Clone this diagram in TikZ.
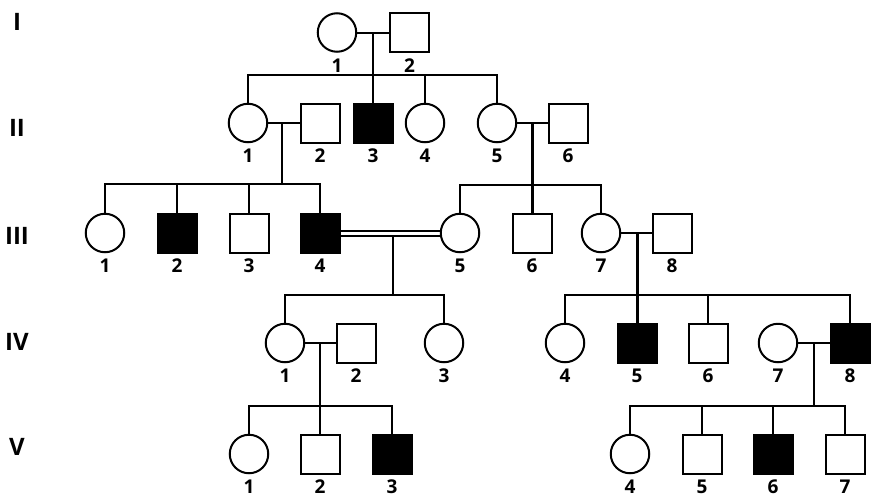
\documentclass[tikz,border=0pt]{standalone}
\usepackage{fontspec}
\setmainfont{Open Sans}
\begin{document}
\begin{tikzpicture}[x=1pt,y=-1pt,
  ind/.style={draw, line width=2pt, inner sep=0pt,
    label={[lab]below:#1}},
  fem/.style={ind=#1, circle, minimum size=38.5pt},
  mal/.style={ind=#1, rectangle, minimum size=39pt},
  aff/.style={fill=black},
  lab/.style={font=\bfseries\fontsize{19}{19}\selectfont, inner sep=0pt, label distance=5.5pt},
  gen/.style={font=\bfseries\fontsize{24}{24}\selectfont, inner sep=0pt},
  rel/.style={line width=2pt},
  thk/.style={line width=3pt}]
\useasboundingbox (0,0) rectangle (886,501);
% generation labels
\node[gen] (gI) at (17,22) {I};
\node[gen] (gII) at (17,128) {II};
\node[gen] (gIII) at (17,236) {III};
\node[gen] (gIV) at (17,342) {IV};
\node[gen] (gV) at (17,447) {V};
% generation I
\node[fem=1] (I1) at (337,32.5) {};
\node[mal=2] (I2) at (409.5,32.5) {};
% generation II
\node[fem=1] (II1) at (248,123) {};
\node[mal=2] (II2) at (320,123) {};
\node[mal=3,aff] (II3) at (373,123) {};
\node[fem=4] (II4) at (425,123) {};
\node[fem=5] (II5) at (497,123) {};
\node[mal=6] (II6) at (568,123) {};
% generation III
\node[fem=1] (III1) at (105,233) {};
\node[mal=2,aff] (III2) at (177,233) {};
\node[mal=3] (III3) at (249,233) {};
\node[mal=4,aff] (III4) at (320,233) {};
\node[fem=5] (III5) at (460,233) {};
\node[mal=6] (III6) at (532,233) {};
\node[fem=7] (III7) at (601,233) {};
\node[mal=8] (III8) at (672,233) {};
% generation IV
\node[fem=1] (IV1) at (285,343) {};
\node[mal=2] (IV2) at (356,343) {};
\node[fem=3] (IV3) at (444,343) {};
\node[fem=4] (IV4) at (565,343) {};
\node[mal=5,aff] (IV5) at (637,343) {};
\node[mal=6] (IV6) at (708,343) {};
\node[fem=7] (IV7) at (778,343) {};
\node[mal=8,aff] (IV8) at (850,343) {};
% generation V
\node[fem=1] (V1) at (249,454) {};
\node[mal=2] (V2) at (320,454) {};
\node[mal=3,aff] (V3) at (392,454) {};
\node[fem=4] (V4) at (630,454) {};
\node[mal=5] (V5) at (702,454) {};
\node[mal=6,aff] (V6) at (773,454) {};
\node[mal=7] (V7) at (845,454) {};

% I1 x I2
\draw[rel] (I1) -- (I2);
\coordinate (mI) at (373,32.5);
\coordinate (sI) at (373,75);
\draw[rel] (mI) -- (sI);
\draw[rel] (II1.north) |- (sI) -| (II5.north);
\draw[rel] (sI) -- (II3.north);
\draw[rel] (II4.north) -- (II4.north |- sI);

% II1 x II2
\draw[rel] (II1) -- (II2);
\coordinate (mII1) at (282,123);
\coordinate (sII1) at (282,184);
\draw[rel] (mII1) -- (sII1);
\draw[rel] (III1.north) |- (sII1) -| (III4.north);
\draw[rel] (III2.north) -- (III2.north |- sII1);
\draw[rel] (III3.north) -- (III3.north |- sII1);

% II5 x II6
\draw[rel] (II5) -- (II6);
\coordinate (mII5) at (532,123);
\coordinate (sII5) at (532,185);
\draw[thk] (mII5) -- (III6.north);
\draw[rel] (III5.north) |- (sII5) -| (III7.north);

% III4 = III5 (consanguineous)
\draw[rel] ([yshift=-2.5pt]III4.east) -- ([yshift=-2.5pt]III5.west);
\draw[rel] ([yshift=2.5pt]III4.east) -- ([yshift=2.5pt]III5.west);
\coordinate (mIII4) at (393,235.5);
\coordinate (sIII4) at (393,295);
\draw[rel] (mIII4) -- (sIII4);
\draw[rel] (IV1.north) |- (sIII4) -| (IV3.north);

% III7 x III8
\draw[rel] (III7) -- (III8);
\coordinate (mIII7) at (637,233);
\coordinate (sIII7) at (637,295);
\draw[thk] (mIII7) -- (IV5.north);
\draw[rel] (IV4.north) |- (sIII7) -| (IV8.north);
\draw[rel] (IV6.north) -- (IV6.north |- sIII7);

% IV1 x IV2
\draw[rel] (IV1) -- (IV2);
\coordinate (mIV1) at (320,343);
\coordinate (sIV1) at (320,406);
\draw[rel] (mIV1) -- (V2.north);
\draw[rel] (V1.north) |- (sIV1) -| (V3.north);

% IV7 x IV8
\draw[rel] (IV7) -- (IV8);
\coordinate (mIV7) at (814,343);
\coordinate (sIV7) at (814,406);
\draw[rel] (mIV7) -- (sIV7);
\draw[rel] (V4.north) |- (sIV7) -| (V7.north);
\draw[rel] (V5.north) -- (V5.north |- sIV7);
\draw[rel] (V6.north) -- (V6.north |- sIV7);
\end{tikzpicture}
\end{document}
